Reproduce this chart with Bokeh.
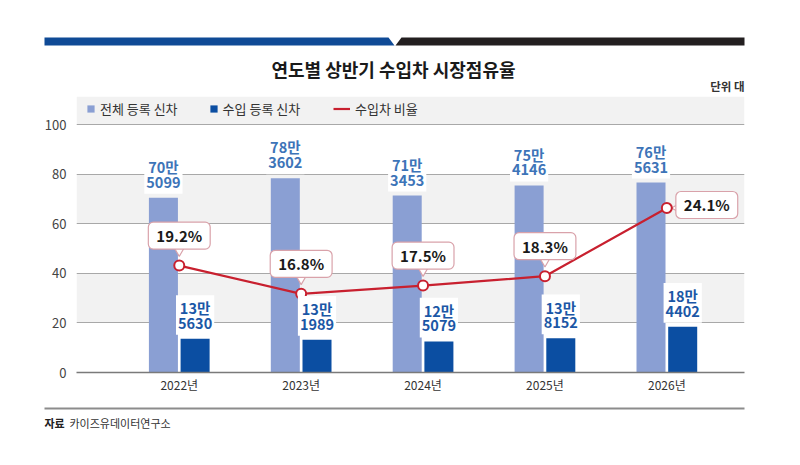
from math import pi
from bokeh.plotting import figure
from bokeh.models import ColumnDataSource, Range1d, FixedTicker, Label, Legend, LegendItem
from bokeh.layouts import column
from bokeh.transform import dodge
from bokeh.core.properties import value
from bokeh.embed import file_html
from bokeh.resources import INLINE

# ---------------- data ----------------
years = ["2022년", "2023년", "2024년", "2025년", "2026년"]
total_new = [705099, 783602, 713453, 754146, 765631]      # 전체 등록 신차 (대)
import_new = [135630, 131989, 125079, 138152, 184402]     # 수입 등록 신차 (대)
import_share = [19.2, 16.8, 17.5, 18.3, 24.1]             # 수입차 비율 (%)
y_ticks = [0, 20, 40, 60, 80, 100]

title_text = "연도별 상반기 수입차 시장점유율"
unit_text = "단위 대"
source_head = "자료"
source_text = "카이즈유데이터연구소"
legend_labels = ["전체 등록 신차", "수입 등록 신차", "수입차 비율"]

# ---------------- style / layout ----------------
FONT = "Noto Sans CJK KR"
LIGHT = "#8a9fd3"
DARK = "#0b4ea2"
RED = "#c8202f"
CALLOUT_BORDER = "#d9a2aa"
LIGHT_TXT = "#3d74b8"
DARK_TXT = "#1b57a6"
W = 800
H_HEAD, H_MAIN, H_FOOT = 96, 306, 63
M_LEFT, M_RIGHT, M_TOP, M_BOTTOM = 76, 56, 0, 30
FRAME_W = W - M_LEFT - M_RIGHT
FRAME_H = H_MAIN - M_TOP - M_BOTTOM      # includes legend strip above the 100 line
PLOT_H = 248                             # pixel height of the 0..100 band
X_LO, X_HI = -0.843, 4.637
Y_TOP = 100 * FRAME_H / PLOT_H
R_LO, R_HI = 10.11, 31.20                # share axis (hidden) for 0..100 band
R_TOP = R_LO + (R_HI - R_LO) * FRAME_H / PLOT_H
BAR_OFF, BAR_W = 0.13, 0.238


def bare(fig):
    fig.outline_line_color = None
    fig.background_fill_color = "white"
    fig.border_fill_color = "white"
    return fig


def panel(h):
    return bare(figure(width=W, height=h, x_range=Range1d(0, W), y_range=Range1d(0, h),
                       x_axis_type=None, y_axis_type=None, toolbar_location=None,
                       output_backend="svg", min_border=0, frame_align=False))


# ---------------- header ----------------
head = panel(H_HEAD)
head.patch([44, 388, 394, 44], [59, 59, 51, 51], fill_color="#0f4a96", line_color=None)
head.patch([401, 744, 744, 395], [59, 59, 51, 51], fill_color="#231f20", line_color=None)
head.text(x=[393], y=[28], text=[title_text], text_align="center", text_baseline="middle",
          text_font=value(FONT), text_font_size="18px", text_font_style="bold", text_color="#1a1a1a")
head.text(x=[744], y=[11], text=[unit_text], text_align="right", text_baseline="middle",
          text_font=value(FONT), text_font_size="11.5px", text_font_style="bold", text_color="#333333")

# ---------------- main chart ----------------
xs = list(range(len(years)))
src = ColumnDataSource(dict(
    x=xs,
    total=[v / 10000 for v in total_new],
    imp=[v / 10000 for v in import_new],
    share=import_share,
))

p = bare(figure(width=W, height=H_MAIN, x_range=Range1d(X_LO, X_HI), y_range=Range1d(0, Y_TOP),
                toolbar_location=None, output_backend="svg", frame_align=False,
                min_border_left=M_LEFT, min_border_right=M_RIGHT,
                min_border_top=M_TOP, min_border_bottom=M_BOTTOM))
p.title.visible = False

r_span = R_HI - R_LO
x_span = X_HI - X_LO
ptr_up = 15 * r_span / PLOT_H           # pointer of callouts sits 15px above the point
ptr_right = 9.4 * x_span / FRAME_W      # pointer of right-hand callout sits 9.4px right
p.extra_y_ranges = {
    "ratio": Range1d(R_LO, R_TOP),
    "ptr": Range1d(R_LO - ptr_up, R_TOP - ptr_up),
}
p.extra_x_ranges = {"ptrx": Range1d(X_LO - ptr_right, X_HI - ptr_right)}

light = p.vbar(x=dodge("x", -BAR_OFF), top="total", width=BAR_W, source=src,
               fill_color=LIGHT, line_color=None)
dark = p.vbar(x=dodge("x", BAR_OFF), top="imp", width=BAR_W, source=src,
              fill_color=DARK, line_color=None)

line = p.line("x", "share", source=src, y_range_name="ratio", line_color=RED, line_width=2.2)

# callout pointers
n = len(years)
p.scatter(x=xs[:n - 1], y=import_share[:n - 1], y_range_name="ptr", marker="inverted_triangle",
          size=10, fill_color="white", line_color=CALLOUT_BORDER, line_width=1.2)
p.scatter(x=xs[n - 1:], y=import_share[n - 1:], x_range_name="ptrx", y_range_name="ratio",
          marker="triangle", angle=pi / 2, size=8, fill_color="white",
          line_color=CALLOUT_BORDER, line_width=1.2)

p.scatter("x", "share", source=src, y_range_name="ratio", marker="circle", size=10,
          fill_color="white", line_color=RED, line_width=2)

# value labels above bars
for i in xs:
    for vals, off, col in ((total_new, -BAR_OFF, LIGHT_TXT), (import_new, BAR_OFF, DARK_TXT)):
        v = vals[i]
        p.add_layout(Label(x=i + off, y=v / 10000, text=f"{v // 10000}만\n{v % 10000:04d}",
                           text_align="center", text_baseline="bottom", y_offset=4,
                           text_font=FONT, text_font_size="14.5px", text_font_style="bold",
                           text_color=col, text_line_height=0.7,
                           background_fill_color="white", padding=2))

# ratio callouts
for i in xs:
    last = i == n - 1
    p.add_layout(Label(x=i, y=import_share[i], y_range_name="ratio", text=f"{import_share[i]:.1f}%",
                       text_align="left" if last else "center", text_baseline="middle",
                       x_offset=9 if last else 0, y_offset=3 if last else 30,
                       text_font=FONT, text_font_size="15px", text_font_style="bold",
                       text_color="#1a1a1a", background_fill_color="white",
                       border_line_color=CALLOUT_BORDER, border_line_width=1.2,
                       padding=dict(left=8, right=8, top=3, bottom=3), border_radius=5))

# axes & grid
p.xaxis.ticker = FixedTicker(ticks=xs)
p.xaxis.major_label_overrides = {i: y for i, y in enumerate(years)}
p.xaxis.axis_line_color = "#7a7a7a"
p.xaxis.axis_line_width = 1.5
p.xaxis.major_tick_line_color = None
p.xaxis.minor_tick_line_color = None
p.xaxis.major_tick_out = 0
p.xaxis.minor_tick_out = 0
p.xaxis.major_label_standoff = 3
p.xaxis.major_label_text_font = FONT
p.xaxis.major_label_text_font_size = "12px"
p.xaxis.major_label_text_color = "#333333"

p.yaxis.ticker = FixedTicker(ticks=y_ticks)
p.yaxis.axis_line_color = None
p.yaxis.major_tick_line_color = None
p.yaxis.minor_tick_line_color = None
p.yaxis.major_tick_out = 0
p.yaxis.minor_tick_out = 0
p.yaxis.major_label_standoff = 10
p.yaxis.major_label_text_font = FONT
p.yaxis.major_label_text_font_size = "13px"
p.yaxis.major_label_text_color = "#444444"

p.xgrid.grid_line_color = None
p.ygrid.grid_line_color = "#a8a8a8"
p.ygrid.grid_line_width = 1
p.ygrid.band_fill_color = "#f2f2f2"
p.ygrid.band_fill_alpha = 1.0

# legend in the strip above the 100 line
legend_style = dict(orientation="horizontal", padding=0, margin=0, border_line_color=None,
                    background_fill_alpha=0, label_text_font=FONT, label_text_font_size="13px",
                    label_text_color="#333333", label_height=14, label_standoff=5)
leg1 = Legend(items=[LegendItem(label=legend_labels[0], renderers=[light]),
                     LegendItem(label=legend_labels[1], renderers=[dark])],
              location=(10, 254), glyph_width=9, glyph_height=9, spacing=31, **legend_style)
leg2 = Legend(items=[LegendItem(label=legend_labels[2], renderers=[line])],
              location=(257, 254), glyph_width=17, glyph_height=9, **legend_style)
p.add_layout(leg1)
p.add_layout(leg2)

# ---------------- footer ----------------
foot = panel(H_FOOT)
foot.line([44, 744], [57, 57], line_color="#8c8c8c", line_width=2)
foot.text(x=[44], y=[43], text=[source_head], text_align="left", text_baseline="middle",
          text_font=value(FONT), text_font_size="11px", text_font_style="bold", text_color="#222222")
foot.text(x=[69], y=[43], text=[source_text], text_align="left", text_baseline="middle",
          text_font=value(FONT), text_font_size="11px", text_color="#333333")

layout = column(head, p, foot, spacing=0)
open("out.html", "w").write(file_html(layout, INLINE))
